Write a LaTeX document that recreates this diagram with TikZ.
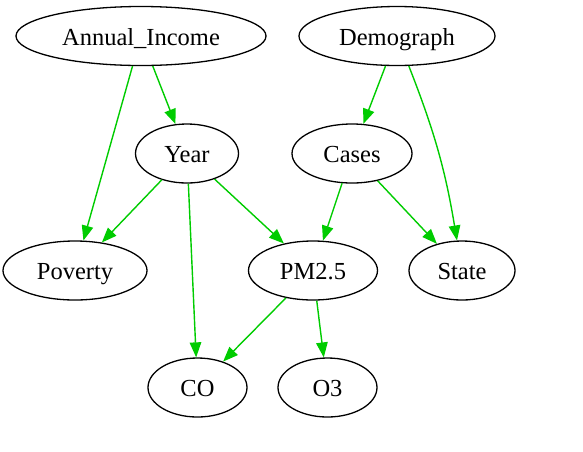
\documentclass[tikz,border=0pt]{standalone}
\usepackage{fontspec}
\setmainfont{Liberation Serif}
\usetikzlibrary{arrows.meta,shapes.geometric}
\definecolor{edgegreen}{RGB}{0,204,0}
\begin{document}
\begin{tikzpicture}[x=1pt,y=-1pt,
  var/.style={ellipse,draw=black,line width=1.3pt,inner sep=0pt,
    text height=22pt,text depth=4pt,
    font=\fontsize{24.5}{29}\selectfont},
  link/.style={draw=edgegreen,line width=1.4pt,-{Triangle[length=15pt,width=11.5pt]}}]
\useasboundingbox (0,0) rectangle (583,451);
\node[var,minimum width=250pt,minimum height=59pt] (ai) at (141,36) {Annual\_Income};
\node[var,minimum width=196pt,minimum height=59pt] (dem) at (397,36) {Demograph};
\node[var,minimum width=103pt,minimum height=59pt] (year) at (187,153.5) {Year};
\node[var,minimum width=120pt,minimum height=59pt] (cases) at (352,153.5) {Cases};
\node[var,minimum width=144pt,minimum height=59pt] (pov) at (75,270.5) {Poverty};
\node[var,minimum width=129pt,minimum height=59pt] (pm) at (313,270.5) {PM2.5};
\node[var,minimum width=106pt,minimum height=59pt] (state) at (462,270.5) {State};
\node[var,minimum width=99pt,minimum height=59pt] (co) at (197.5,387.5) {CO};
\node[var,minimum width=99pt,minimum height=59pt] (o3) at (327.5,387.5) {O3};
\draw[link] (ai) -- (year);
\draw[link] (ai) -- (pov);
\draw[link] (dem) -- (cases);
\draw[link] (dem) to[bend left=6] (state);
\draw[link] (year) -- (pov);
\draw[link] (year) -- (co);
\draw[link] (year) -- (pm);
\draw[link] (cases) -- (pm);
\draw[link] (cases) -- (state);
\draw[link] (pm) -- (co);
\draw[link] (pm) -- (o3);
\end{tikzpicture}
\end{document}
